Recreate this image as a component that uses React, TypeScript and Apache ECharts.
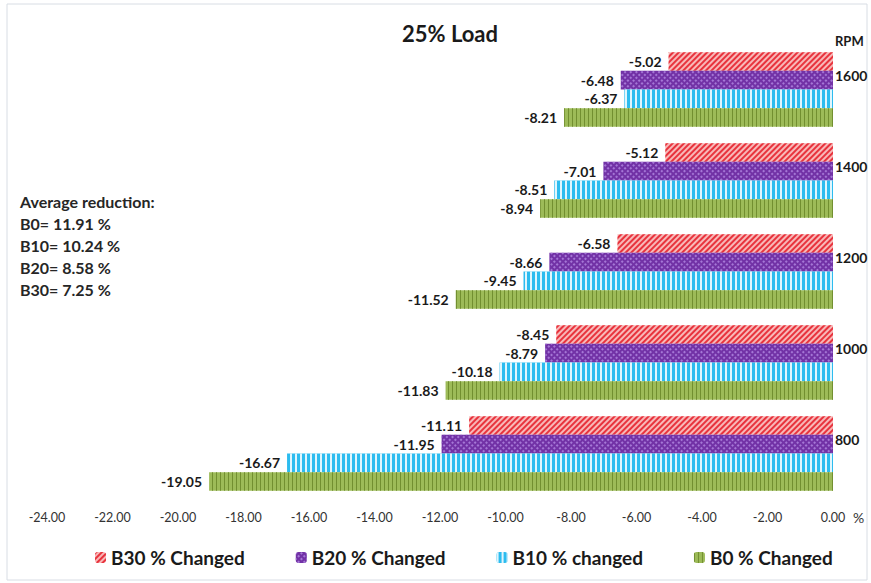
import React, { useEffect, useRef } from "react";
import * as echarts from "echarts";

// Engine speeds (RPM), bottom to top
const categories = ["800", "1000", "1200", "1400", "1600"];

// Percentage change per blend at 25% load
const b30Changed = [-11.11, -8.45, -6.58, -5.12, -5.02];
const b20Changed = [-11.95, -8.79, -8.66, -7.01, -6.48];
const b10Changed = [-16.67, -10.18, -9.45, -8.51, -6.37];
const b0Changed = [-19.05, -11.83, -11.52, -8.94, -8.21];

// Series listed top to bottom within each RPM group
const seriesNames = ["B30 % Changed", "B20 % Changed", "B10 % changed", "B0 % Changed"];

const averageLines = [
  "Average reduction:",
  "B0= 11.91 %",
  "B10= 10.24 %",
  "B20= 8.58 %",
  "B30= 7.25 %",
];

const FONT = "Lato, 'Open Sans', sans-serif";

export default function App() {
  const ref = useRef<HTMLDivElement>(null);

  useEffect(() => {
    if (!ref.current) return;
    const chart = echarts.init(ref.current, null, { renderer: "svg" });

    const barLabel = {
      show: true,
      position: "left",
      distance: 7,
      color: "#1a1a1a",
      fontFamily: FONT,
      fontWeight: "bold",
      fontSize: 14,
      formatter: (p: any) => Number(p.value).toFixed(2),
    };

    const styles = [
      {
        color: "#f8b8b8",
        decal: {
          symbol: "rect",
          color: "#e8333d",
          dashArrayX: [1, 0],
          dashArrayY: [2, 2],
          rotation: -Math.PI / 4,
          symbolSize: 1,
        },
      },
      {
        color: "#7232a6",
        decal: {
          symbol: "rect",
          color: "#a577d6",
          dashArrayX: [2, 2],
          dashArrayY: [2, 2],
          rotation: Math.PI / 4,
          symbolSize: 1,
        },
      },
      {
        color: "#2cbcef",
        decal: {
          symbol: "rect",
          color: "rgba(255,255,255,0.85)",
          dashArrayX: [2, 3],
          dashArrayY: [1, 0],
          symbolSize: 1,
        },
      },
      {
        color: "#9dbb58",
        decal: {
          symbol: "rect",
          color: "#728f30",
          dashArrayX: [1, 3],
          dashArrayY: [1, 0],
          symbolSize: 1,
        },
      },
    ];

    const dataSets = [b30Changed, b20Changed, b10Changed, b0Changed];

    chart.setOption({
      animation: false,
      backgroundColor: "#ffffff",
      title: {
        text: "25% Load",
        left: 445,
        top: 17,
        textAlign: "center",
        textStyle: { fontFamily: FONT, fontWeight: "bold", fontSize: 22, color: "#1a1a1a" },
      },
      legend: {
        data: seriesNames,
        left: 90,
        top: 543,
        itemWidth: 11,
        itemHeight: 11,
        itemGap: 51,
        textStyle: { fontFamily: FONT, fontWeight: "bold", fontSize: 19, color: "#1a1a1a" },
      },
      grid: { left: 47, right: 38, top: 44, bottom: 84, containLabel: false },
      xAxis: {
        type: "value",
        min: -24,
        max: 0,
        interval: 2,
        name: "%",
        nameLocation: "end",
        nameGap: 20,
        nameTextStyle: {
          fontFamily: FONT,
          fontSize: 14,
          color: "#333",
          verticalAlign: "top",
          padding: [11, 0, 0, 0],
        },
        axisLine: { show: false },
        axisTick: { show: false },
        splitLine: { show: false },
        axisLabel: {
          margin: 12,
          fontFamily: FONT,
          fontSize: 12.5,
          color: "#333",
          formatter: (v: number) => v.toFixed(2),
        },
      },
      yAxis: {
        type: "category",
        data: categories,
        position: "right",
        name: "RPM",
        nameLocation: "end",
        nameGap: 3,
        nameTextStyle: {
          fontFamily: FONT,
          fontWeight: "bold",
          fontSize: 13,
          color: "#1a1a1a",
          align: "left",
          verticalAlign: "middle",
          padding: [0, 0, 0, 2],
        },
        axisLine: { show: false },
        axisTick: { show: false },
        splitLine: { show: false },
        axisLabel: {
          margin: 2,
          fontFamily: FONT,
          fontWeight: "bold",
          fontSize: 14,
          color: "#1a1a1a",
          verticalAlign: "bottom",
          padding: [0, 0, 7, 0],
        },
      },
      // First series sits at the top of each category band
      series: seriesNames.map((name, i) => ({
        name,
        type: "bar",
        data: dataSets[i],
        barGap: "0%",
        barCategoryGap: "18%",
        itemStyle: styles[i],
        label: barLabel,
      })),
      graphic: [
        {
          type: "rect",
          shape: { x: 7, y: 4, width: 860, height: 576 },
          style: { fill: "none", stroke: "#d8dde4", lineWidth: 1 },
          silent: true,
        },
        ...averageLines.map((t, i) => ({
          type: "text",
          left: 20,
          top: 193 + i * 22,
          style: {
            text: t,
            fontFamily: FONT,
            fontWeight: "bold",
            fontSize: 16,
            fill: "#262626",
          },
        })),
      ],
    });

    return () => chart.dispose();
  }, []);

  return (
    <div
      ref={ref}
      style={{ position: "fixed", left: 0, top: 0, width: 871, height: 583 }}
    />
  );
}
